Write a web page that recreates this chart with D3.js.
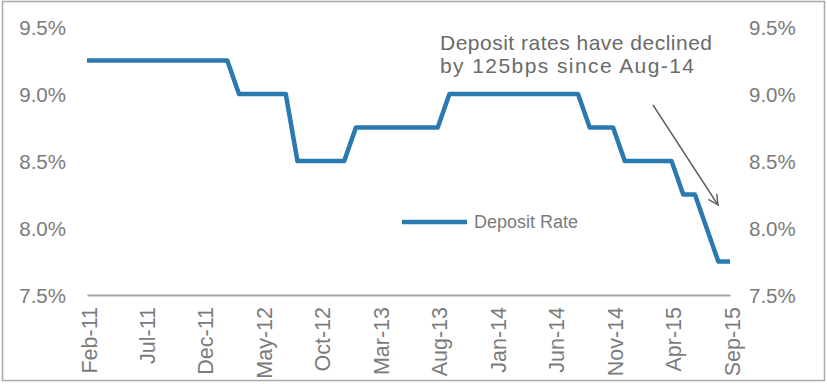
<!DOCTYPE html>
<html>
<head>
<meta charset="utf-8">
<script src="https://cdn.jsdelivr.net/npm/d3@7"></script>
<style>
  html, body { margin: 0; padding: 0; background: #ffffff; }
  svg { display: block; }
  text { font-family: "Liberation Sans", Arial, sans-serif; }
</style>
</head>
<body>
<svg id="chart" width="827" height="384"></svg>
<script>
const months = [
  "Feb-11","Mar-11","Apr-11","May-11","Jun-11","Jul-11","Aug-11","Sep-11","Oct-11","Nov-11","Dec-11",
  "Jan-12","Feb-12","Mar-12","Apr-12","May-12","Jun-12","Jul-12","Aug-12","Sep-12","Oct-12","Nov-12","Dec-12",
  "Jan-13","Feb-13","Mar-13","Apr-13","May-13","Jun-13","Jul-13","Aug-13","Sep-13","Oct-13","Nov-13","Dec-13",
  "Jan-14","Feb-14","Mar-14","Apr-14","May-14","Jun-14","Jul-14","Aug-14","Sep-14","Oct-14","Nov-14","Dec-14",
  "Jan-15","Feb-15","Mar-15","Apr-15","May-15","Jun-15","Jul-15","Aug-15","Sep-15"
];
const depositRate = [
  9.25,9.25,9.25,9.25,9.25,9.25,9.25,9.25,9.25,9.25,9.25,
  9.25,9.25,9.00,9.00,9.00,9.00,9.00,8.50,8.50,8.50,8.50,8.50,
  8.75,8.75,8.75,8.75,8.75,8.75,8.75,8.75,9.00,9.00,9.00,9.00,
  9.00,9.00,9.00,9.00,9.00,9.00,9.00,9.00,8.75,8.75,8.75,8.50,
  8.50,8.50,8.50,8.50,8.25,8.25,8.00,7.75,7.75
];
const xTickLabels = ["Feb-11","Jul-11","Dec-11","May-12","Oct-12","Mar-13","Aug-13","Jan-14","Jun-14","Nov-14","Apr-15","Sep-15"];
const yTicks = [7.5, 8.0, 8.5, 9.0, 9.5];
const seriesName = "Deposit Rate";
const annotationLines = ["Deposit rates have declined", "by 125bps since Aug-14"];

const svg = d3.select("#chart");
const lineColor = "#2b79b1";
const textColor = "#7b7b7b";

// frame
svg.append("rect").attr("x", 2.5).attr("y", 1.5).attr("width", 822).attr("height", 379)
  .attr("fill", "none").attr("stroke", "#a9a9a9").attr("stroke-width", 1.5);

const x = d3.scalePoint().domain(months).range([87, 730]);
const y = d3.scaleLinear().domain([7.5, 9.5]).range([295, 27]);

// left axis
const yAxisL = d3.axisLeft(y).tickValues(yTicks).tickSize(0).tickPadding(0);
const gL = svg.append("g").attr("transform", "translate(66,0)").call(yAxisL);
gL.select(".domain").remove();
gL.selectAll("text").text(d => d3.format(".1f")(d) + "%")
  .attr("fill", textColor).attr("font-size", 20.5).attr("dy", "0.35em");

// right axis
const yAxisR = d3.axisRight(y).tickValues(yTicks).tickSize(0).tickPadding(0);
const gR = svg.append("g").attr("transform", "translate(749,0)").call(yAxisR);
gR.select(".domain").remove();
gR.selectAll("text").text(d => d3.format(".1f")(d) + "%")
  .attr("fill", textColor).attr("font-size", 20.5).attr("dy", "0.35em");

// x axis
const xAxis = d3.axisBottom(x).tickValues(xTickLabels).tickSize(0).tickPadding(0);
const gX = svg.append("g").attr("transform", `translate(0,${y(7.5)})`).call(xAxis);
gX.select(".domain").attr("stroke", "#a6a6a6").attr("stroke-width", 2);
gX.selectAll("text")
  .attr("fill", textColor).attr("font-size", 21.5)
  .attr("text-anchor", "end")
  .attr("transform", "rotate(-90)")
  .attr("x", -12).attr("y", 1.5).attr("dy", "0.35em");

// line
const line = d3.line().x((d, i) => x(months[i])).y(d => y(d));
svg.append("path").datum(depositRate)
  .attr("d", line).attr("fill", "none")
  .attr("stroke", lineColor).attr("stroke-width", 4.5)
  .attr("stroke-linejoin", "round");

// legend
svg.append("line").attr("x1", 402).attr("x2", 467).attr("y1", 222).attr("y2", 222)
  .attr("stroke", lineColor).attr("stroke-width", 4.5);
svg.append("text").attr("x", 474).attr("y", 222).attr("dy", "0.35em")
  .attr("font-size", 18).attr("fill", textColor).text(seriesName);

// annotation text
const annLengths = [272, 254];
svg.append("text").attr("x", 440).attr("y", 50).attr("font-size", 21).attr("fill", "#6a6a6a")
  .selectAll("tspan").data(annotationLines).join("tspan")
  .attr("x", 440).attr("dy", (d, i) => i === 0 ? 0 : 23)
  .attr("textLength", (d, i) => annLengths[i]).attr("lengthAdjust", "spacing")
  .text(d => d);

// arrow
svg.append("defs").append("marker").attr("id", "arr")
  .attr("viewBox", "0 0 12 12").attr("refX", 11).attr("refY", 6)
  .attr("markerWidth", 12).attr("markerHeight", 12).attr("markerUnits", "userSpaceOnUse")
  .attr("orient", "auto")
  .append("path").attr("d", "M1,1 L11,6 L1,11").attr("fill", "none")
  .attr("stroke", "#5e5e5e").attr("stroke-width", 1.4);
svg.append("line").attr("x1", 653).attr("y1", 105).attr("x2", 718).attr("y2", 205)
  .attr("stroke", "#5e5e5e").attr("stroke-width", 1.4).attr("marker-end", "url(#arr)");
</script>
</body>
</html>
